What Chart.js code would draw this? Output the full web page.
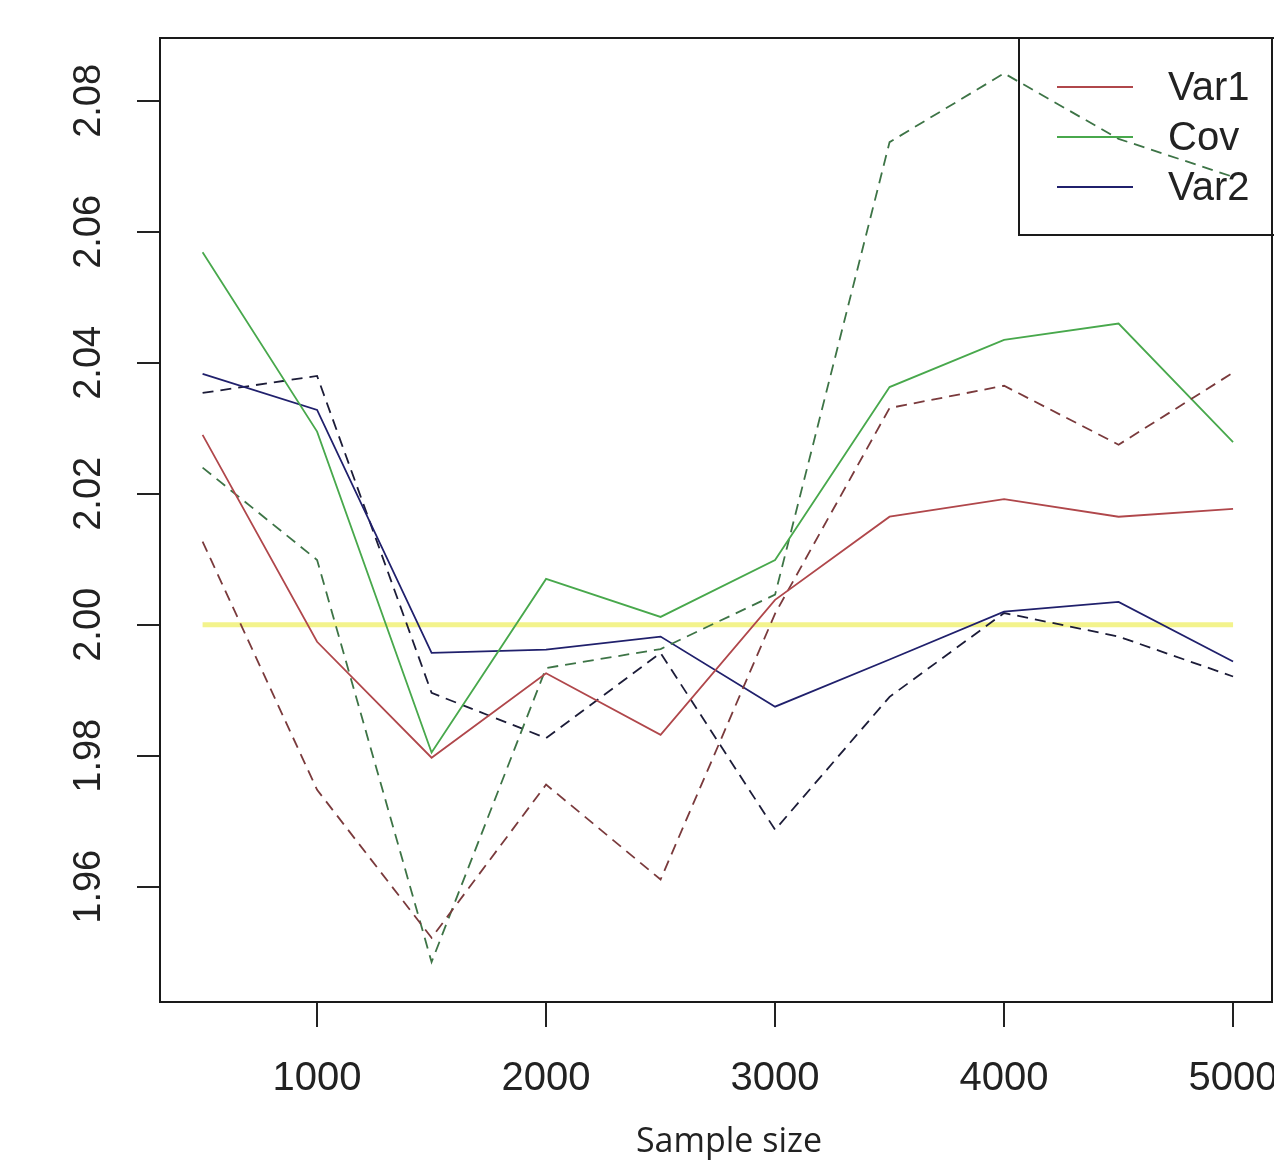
<!DOCTYPE html>
<html>
<head>
<meta charset="utf-8">
<script src="https://cdn.jsdelivr.net/npm/chart.js@4/dist/chart.umd.min.js"></script>
<style>
  body { margin: 0; background: #fff; }
  #wrap { width: 1274px; height: 1160px; }
</style>
</head>
<body>
<div id="wrap"><canvas id="plot" width="1274" height="1160"></canvas></div>
<script>
// Data
const sampleSizes = [500, 1000, 1500, 2000, 2500, 3000, 3500, 4000, 4500, 5000];
const var1 = [2.0290, 1.9974, 1.9797, 1.9926, 1.9832, 2.0038, 2.0165, 2.0192, 2.0165, 2.0177];
const var1Dash = [2.0127, 1.9748, 1.9522, 1.9756, 1.9611, 2.0017, 2.0331, 2.0365, 2.0275, 2.0385];
const cov = [2.0569, 2.0295, 1.9805, 2.0070, 2.0012, 2.0099, 2.0363, 2.0435, 2.0460, 2.0279];
const covDash = [2.0240, 2.0099, 1.9485, 1.9934, 1.9963, 2.0046, 2.0737, 2.0842, 2.0742, 2.0684];
const var2 = [2.0383, 2.0328, 1.9957, 1.9962, 1.9982, 1.9875, 1.9947, 2.0020, 2.0035, 1.9944];
const var2Dash = [2.0354, 2.0380, 1.9896, 1.9827, 1.9957, 1.9687, 1.9890, 2.0018, 1.9982, 1.9921];
const refX = [500, 5000];
const refY = [2.00, 2.00];
const xTicks = [1000, 2000, 3000, 4000, 5000];
const yTicks = [1.96, 1.98, 2.00, 2.02, 2.04, 2.06, 2.08];
const legendNames = ['Var1', 'Cov', 'Var2'];
const xTitle = 'Sample size';

const RED = '#b0474b', RED_D = '#7a3a3c';
const GREEN = '#48a84c', GREEN_D = '#3d7446';
const NAVY = '#20206c', NAVY_D = '#1c1c38';
const DASH = [11, 7];

const pts = (xs, ys) => xs.map((x, i) => ({ x: x, y: ys[i] }));

function line(data, color, dashed) {
    return {
        data: pts(sampleSizes, data),
        borderColor: color,
        borderWidth: 1.8,
        borderDash: dashed ? DASH : [],
        pointRadius: 0,
        tension: 0,
        fill: false,
        order: 1
    };
}

// box, rotated y labels, x title and legend, R style
const rDecor = {
    id: 'rDecor',
    afterDatasetsDraw(chart) {
        const { ctx, chartArea: a, scales } = chart;
        ctx.save();
        ctx.strokeStyle = '#1a1a1a';
        ctx.lineWidth = 2;
        ctx.strokeRect(a.left, a.top, a.right - a.left, a.bottom - a.top);

        // y tick labels, rotated
        ctx.fillStyle = '#222';
        ctx.font = '38px "Liberation Sans", Arial, sans-serif';
        ctx.textAlign = 'center';
        ctx.textBaseline = 'middle';
        yTicks.forEach(v => {
            const y = scales.y.getPixelForValue(v);
            ctx.save();
            ctx.translate(a.left - 70, y);
            ctx.rotate(-Math.PI / 2);
            ctx.fillText(v.toFixed(2), 0, 0);
            ctx.restore();
        });

        // x axis title
        ctx.textBaseline = 'alphabetic';
        ctx.font = '34px "Open Sans", sans-serif';
        ctx.fillText(xTitle, a.left + 569, a.bottom + 150);

        // legend
        const lx = a.right - 253, ly = a.top;
        ctx.strokeRect(lx, ly, 300, 197);
        const cols = [RED, GREEN, NAVY];
        ctx.textAlign = 'left';
        ctx.textBaseline = 'middle';
        ctx.font = '40px "Liberation Sans", Arial, sans-serif';
        legendNames.forEach((name, i) => {
            const y = ly + 49 + i * 50;
            ctx.strokeStyle = cols[i];
            ctx.lineWidth = 2;
            ctx.beginPath();
            ctx.moveTo(lx + 38, y);
            ctx.lineTo(lx + 114, y);
            ctx.stroke();
            ctx.fillStyle = '#222';
            ctx.fillText(name, lx + 149, y + 2);
        });
        ctx.restore();
    }
};

new Chart(document.getElementById('plot'), {
    type: 'line',
    data: {
        datasets: [
            {
                data: pts(refX, refY),
                borderColor: '#f3f38c',
                borderWidth: 5,
                pointRadius: 0,
                fill: false,
                order: 10
            },
            line(var1, RED, false),
            line(var1Dash, RED_D, true),
            line(cov, GREEN, false),
            line(covDash, GREEN_D, true),
            line(var2, NAVY, false),
            line(var2Dash, NAVY_D, true)
        ]
    },
    options: {
        responsive: false,
        animation: false,
        devicePixelRatio: 1,
        layout: { padding: { top: 38, right: 2, left: 0, bottom: 0 } },
        plugins: {
            legend: { display: false },
            tooltip: { enabled: false }
        },
        scales: {
            x: {
                type: 'linear',
                min: 314,
                max: 5170,
                afterBuildTicks: s => { s.ticks = xTicks.map(v => ({ value: v })); },
                afterFit: s => { s.height = 158; s.paddingLeft = 0; s.paddingRight = 0; },
                border: { display: false },
                grid: { drawOnChartArea: false, drawTicks: true, tickLength: 25, color: '#222', lineWidth: 2 },
                ticks: {
                    color: '#222',
                    font: { family: '"Liberation Sans", Arial, sans-serif', size: 40 },
                    maxRotation: 0,
                    padding: 28,
                    callback: v => String(v)
                }
            },
            y: {
                min: 1.9424,
                max: 2.0896,
                afterBuildTicks: s => { s.ticks = yTicks.map(v => ({ value: v })); },
                afterFit: s => { s.width = 160; s.paddingTop = 0; s.paddingBottom = 0; },
                border: { display: false },
                grid: { drawOnChartArea: false, drawTicks: true, tickLength: 23, color: '#222', lineWidth: 2 },
                ticks: { display: false }
            }
        }
    },
    plugins: [rDecor]
});
</script>
</body>
</html>
